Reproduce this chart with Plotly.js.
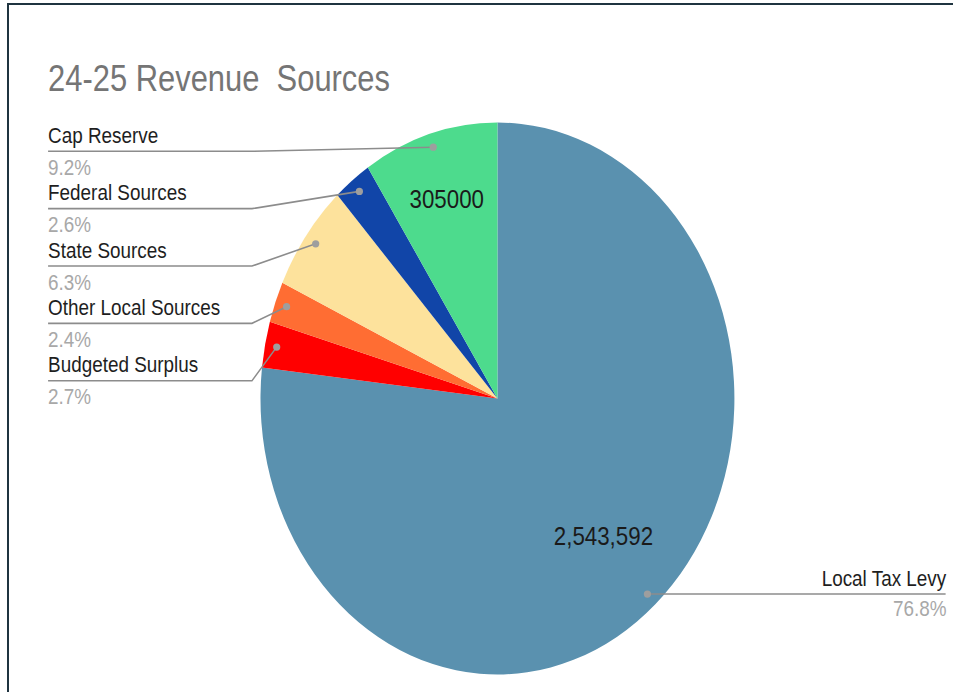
<!DOCTYPE html>
<html>
<head>
<meta charset="utf-8">
<script src="https://cdn.plot.ly/plotly-3.0.1.min.js"></script>
<style>
  html, body { margin: 0; padding: 0; background: #ffffff; overflow: hidden; }
  #frame { position: absolute; left: 7px; top: 3px; width: 960px; height: 700px;
           border-top: 2px solid #1f3440; border-left: 2px solid #1f3440; box-sizing: border-box; }
  #chart { position: absolute; left: 0; top: 0; transform-origin: 0 0; }
</style>
</head>
<body>
<div id="chart"></div>
<div id="frame"></div>
<script>
// ---------------- data ----------------
const chartTitle = "24-25 Revenue\u00a0 Sources";
const categories = ["Local Tax Levy", "Budgeted Surplus", "Other Local Sources", "State Sources", "Federal Sources", "Cap Reserve"];
const values     = [2543592, 89400, 79500, 208700, 86100, 305000];
const sliceText  = ["2,543,592", "", "", "", "", "305000"];
const colors     = ["#5a91af", "#ff0000", "#ff6d33", "#fde29c", "#1145a8", "#4ddb8d"];

// ---------------- layout constants ----------------
const W = 1110, H = 692;              // drawn canvas, squeezed horizontally to 953 px
const S = 953 / W;
const pieCx = 579.4, pieCy = 398.5, pieR = 276;
const dotFrac = 0.95;
const textFrac = [0.67, 0, 0, 0, 0, 0.753];
const leftX = 56.0, elbowX = 293.5, rightX = 1101.4;
const textShift = 2.3;
const rowTop = 151.3, rowStep = 57.35;
const nameColor = "#1e1e1e", pctColor = "#a8a8a8", leaderColor = "#8c8c8c", dotColor = "#9e9e9e";
const FONT = "Liberation Sans, Arial, sans-serif";

const px = X => X / W;
const py = Y => 1 - Y / H;

const total = values.reduce((a, b) => a + b, 0);
let cum = 0;
const mid = values.map(v => { const m = 360 * (cum + v / 2) / total; cum += v; return m; });
const pointAt = (i, f) => {
  const t = mid[i] * Math.PI / 180;
  return [pieCx + f * pieR * Math.sin(t), pieCy - f * pieR * Math.cos(t)];
};
const pct = values.map(v => (100 * v / total).toFixed(1) + "%");

const shapes = [];
const annotations = [];

// left-side labels: rows from top = slices in reverse order (except first)
const leftOrder = [5, 4, 3, 2, 1];
leftOrder.forEach((i, row) => {
  const ly = rowTop + row * rowStep;
  const [dx, dy] = pointAt(i, dotFrac);
  shapes.push({ type: "path", xref: "paper", yref: "paper",
    path: `M ${px(leftX)} ${py(ly)} L ${px(elbowX)} ${py(ly)} L ${px(dx)} ${py(dy)}`,
    line: { color: leaderColor, width: 1.6 } });
  shapes.push({ type: "circle", xref: "paper", yref: "paper",
    x0: px(dx - 3.6 / S), x1: px(dx + 3.6 / S), y0: py(dy + 3.6), y1: py(dy - 3.6),
    fillcolor: dotColor, line: { width: 0 } });
  annotations.push({ xref: "paper", yref: "paper", x: px(leftX - textShift), y: py(ly - 1.4),
    xanchor: "left", yanchor: "bottom", showarrow: false, text: categories[i],
    font: { family: FONT, size: 22, color: nameColor } });
  annotations.push({ xref: "paper", yref: "paper", x: px(leftX - textShift), y: py(ly + 1.6),
    xanchor: "left", yanchor: "top", showarrow: false, text: pct[i],
    font: { family: FONT, size: 22, color: pctColor } });
});

// right-side label for first slice
{
  const i = 0;
  const [dx, dy] = pointAt(i, dotFrac);
  shapes.push({ type: "path", xref: "paper", yref: "paper",
    path: `M ${px(dx)} ${py(dy)} L ${px(rightX)} ${py(dy)}`,
    line: { color: leaderColor, width: 1.6 } });
  shapes.push({ type: "circle", xref: "paper", yref: "paper",
    x0: px(dx - 3.6 / S), x1: px(dx + 3.6 / S), y0: py(dy + 3.6), y1: py(dy - 3.6),
    fillcolor: dotColor, line: { width: 0 } });
  annotations.push({ xref: "paper", yref: "paper", x: px(rightX + textShift), y: py(dy - 1.4),
    xanchor: "right", yanchor: "bottom", showarrow: false, text: categories[i],
    font: { family: FONT, size: 22, color: nameColor } });
  annotations.push({ xref: "paper", yref: "paper", x: px(rightX + textShift), y: py(dy - 0.5),
    xanchor: "right", yanchor: "top", showarrow: false, text: pct[i],
    font: { family: FONT, size: 22, color: pctColor } });
}

// in-slice value labels
sliceText.forEach((t, i) => {
  if (!t) return;
  const [tx, ty] = pointAt(i, textFrac[i]);
  annotations.push({ xref: "paper", yref: "paper", x: px(tx), y: py(ty),
    xanchor: "center", yanchor: "middle", showarrow: false, text: t,
    font: { family: FONT, size: 26, color: "#1a1a1a" } });
});

const trace = {
  type: "pie",
  labels: categories,
  values: values,
  sort: false,
  direction: "clockwise",
  rotation: 0,
  textinfo: "none",
  hoverinfo: "none",
  marker: { colors: colors, line: { width: 0 } },
  domain: {
    x: [px(pieCx - pieR), px(pieCx + pieR)],
    y: [py(pieCy + pieR), py(pieCy - pieR)]
  },
  showlegend: false
};

const layout = {
  width: W, height: H,
  margin: { l: 0, r: 0, t: 0, b: 0 },
  paper_bgcolor: "#ffffff",
  showlegend: false,
  title: {
    text: chartTitle,
    font: { family: FONT, size: 36, color: "#757575" },
    xref: "container", yref: "container",
    x: px(leftX), xanchor: "left",
    y: py(90.7), yanchor: "bottom"
  },
  shapes: shapes,
  annotations: annotations
};

const el = document.getElementById("chart");
el.style.transform = `scaleX(${S})`;
Plotly.newPlot(el, [trace], layout, { staticPlot: true, displayModeBar: false });
</script>
</body>
</html>
